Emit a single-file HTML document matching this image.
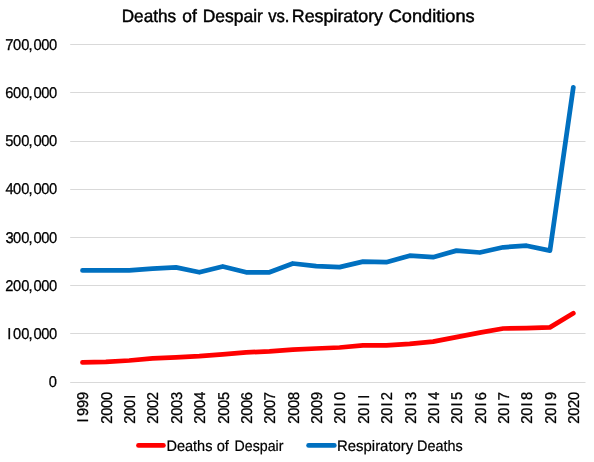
<!DOCTYPE html>
<html><head><meta charset="utf-8"><style>
html,body{margin:0;padding:0;background:#fff;}
body{width:594px;height:462px;overflow:hidden;}
svg{display:block;will-change:transform;text-rendering:geometricPrecision;font-family:"Liberation Sans", sans-serif;fill:#000;}
</style></head><body>
<svg width="594" height="462" viewBox="0 0 594 462">
<rect width="594" height="462" fill="#fff"/>
<line x1="70.2" y1="382.50" x2="585.5" y2="382.50" stroke="#d9d9d9" stroke-width="1"/>
<line x1="70.2" y1="333.50" x2="585.5" y2="333.50" stroke="#d9d9d9" stroke-width="1"/>
<line x1="70.2" y1="285.50" x2="585.5" y2="285.50" stroke="#d9d9d9" stroke-width="1"/>
<line x1="70.2" y1="237.50" x2="585.5" y2="237.50" stroke="#d9d9d9" stroke-width="1"/>
<line x1="70.2" y1="189.50" x2="585.5" y2="189.50" stroke="#d9d9d9" stroke-width="1"/>
<line x1="70.2" y1="141.50" x2="585.5" y2="141.50" stroke="#d9d9d9" stroke-width="1"/>
<line x1="70.2" y1="92.50" x2="585.5" y2="92.50" stroke="#d9d9d9" stroke-width="1"/>
<line x1="70.2" y1="44.50" x2="585.5" y2="44.50" stroke="#d9d9d9" stroke-width="1"/>
<text transform="translate(0,386.80) scale(0.94,1)" x="51.99" y="0" font-size="15.6" stroke="#000" stroke-width="0.3">0</text>
<text transform="translate(0,338.80) scale(0.94,1)" x="7.63 13.96 22.68 30.24 35.66 43.90 52.20" y="0" font-size="15.6" stroke="#000" stroke-width="0.3">I00,000</text>
<text transform="translate(0,290.90) scale(0.94,1)" x="5.54 13.96 22.68 30.24 35.66 43.90 52.20" y="0" font-size="15.6" stroke="#000" stroke-width="0.3">200,000</text>
<text transform="translate(0,242.90) scale(0.94,1)" x="5.73 13.96 22.68 30.24 35.66 43.90 52.20" y="0" font-size="15.6" stroke="#000" stroke-width="0.3">300,000</text>
<text transform="translate(0,193.90) scale(0.94,1)" x="5.96 13.96 22.68 30.24 35.66 43.90 52.20" y="0" font-size="15.6" stroke="#000" stroke-width="0.3">400,000</text>
<text transform="translate(0,145.90) scale(0.94,1)" x="5.70 13.96 22.68 30.24 35.66 43.90 52.20" y="0" font-size="15.6" stroke="#000" stroke-width="0.3">500,000</text>
<text transform="translate(0,97.90) scale(0.94,1)" x="5.52 13.96 22.68 30.24 35.66 43.90 52.20" y="0" font-size="15.6" stroke="#000" stroke-width="0.3">600,000</text>
<text transform="translate(0,49.80) scale(0.94,1)" x="5.52 13.96 22.68 30.24 35.66 43.90 52.20" y="0" font-size="15.6" stroke="#000" stroke-width="0.3">700,000</text>
<text transform="translate(88.29,423.25) rotate(-90) scale(0.94,1)" x="0.92 7.82 16.23 24.63" y="0" font-size="15.6" stroke="#000" stroke-width="0.3">I999</text>
<text transform="translate(111.66,423.25) rotate(-90) scale(0.94,1)" x="-0.63 7.95 16.35 24.75" y="0" font-size="15.6" stroke="#000" stroke-width="0.3">2000</text>
<text transform="translate(135.03,423.25) rotate(-90) scale(0.94,1)" x="-0.63 7.95 16.35 26.14" y="0" font-size="15.6" stroke="#000" stroke-width="0.3">200I</text>
<text transform="translate(158.40,423.25) rotate(-90) scale(0.94,1)" x="-0.63 7.95 16.35 24.58" y="0" font-size="15.6" stroke="#000" stroke-width="0.3">2002</text>
<text transform="translate(181.78,423.25) rotate(-90) scale(0.94,1)" x="-0.63 7.95 16.35 24.77" y="0" font-size="15.6" stroke="#000" stroke-width="0.3">2003</text>
<text transform="translate(205.15,423.25) rotate(-90) scale(0.94,1)" x="-0.63 7.95 16.35 25.00" y="0" font-size="15.6" stroke="#000" stroke-width="0.3">2004</text>
<text transform="translate(228.52,423.25) rotate(-90) scale(0.94,1)" x="-0.63 7.95 16.35 24.74" y="0" font-size="15.6" stroke="#000" stroke-width="0.3">2005</text>
<text transform="translate(251.90,423.25) rotate(-90) scale(0.94,1)" x="-0.63 7.95 16.35 24.57" y="0" font-size="15.6" stroke="#000" stroke-width="0.3">2006</text>
<text transform="translate(275.27,423.25) rotate(-90) scale(0.94,1)" x="-0.63 7.95 16.35 24.57" y="0" font-size="15.6" stroke="#000" stroke-width="0.3">2007</text>
<text transform="translate(298.64,423.25) rotate(-90) scale(0.94,1)" x="-0.63 7.95 16.35 24.69" y="0" font-size="15.6" stroke="#000" stroke-width="0.3">2008</text>
<text transform="translate(322.01,423.25) rotate(-90) scale(0.94,1)" x="-0.63 7.95 16.35 24.63" y="0" font-size="15.6" stroke="#000" stroke-width="0.3">2009</text>
<text transform="translate(345.39,423.25) rotate(-90) scale(0.94,1)" x="-0.63 7.95 17.73 24.75" y="0" font-size="15.6" stroke="#000" stroke-width="0.3">20I0</text>
<text transform="translate(368.76,423.25) rotate(-90) scale(0.94,1)" x="-0.63 7.95 17.73 26.14" y="0" font-size="15.6" stroke="#000" stroke-width="0.3">20II</text>
<text transform="translate(392.13,423.25) rotate(-90) scale(0.94,1)" x="-0.63 7.95 17.73 24.58" y="0" font-size="15.6" stroke="#000" stroke-width="0.3">20I2</text>
<text transform="translate(415.50,423.25) rotate(-90) scale(0.94,1)" x="-0.63 7.95 17.73 24.77" y="0" font-size="15.6" stroke="#000" stroke-width="0.3">20I3</text>
<text transform="translate(438.88,423.25) rotate(-90) scale(0.94,1)" x="-0.63 7.95 17.73 25.00" y="0" font-size="15.6" stroke="#000" stroke-width="0.3">20I4</text>
<text transform="translate(462.25,423.25) rotate(-90) scale(0.94,1)" x="-0.63 7.95 17.73 24.74" y="0" font-size="15.6" stroke="#000" stroke-width="0.3">20I5</text>
<text transform="translate(485.62,423.25) rotate(-90) scale(0.94,1)" x="-0.63 7.95 17.73 24.57" y="0" font-size="15.6" stroke="#000" stroke-width="0.3">20I6</text>
<text transform="translate(509.00,423.25) rotate(-90) scale(0.94,1)" x="-0.63 7.95 17.73 24.57" y="0" font-size="15.6" stroke="#000" stroke-width="0.3">20I7</text>
<text transform="translate(532.37,423.25) rotate(-90) scale(0.94,1)" x="-0.63 7.95 17.73 24.69" y="0" font-size="15.6" stroke="#000" stroke-width="0.3">20I8</text>
<text transform="translate(555.74,423.25) rotate(-90) scale(0.94,1)" x="-0.63 7.95 17.73 24.63" y="0" font-size="15.6" stroke="#000" stroke-width="0.3">20I9</text>
<text transform="translate(579.11,423.25) rotate(-90) scale(0.94,1)" x="-0.63 7.95 16.18 24.75" y="0" font-size="15.6" stroke="#000" stroke-width="0.3">2020</text>
<polyline points="82.49,362.40 105.86,361.80 129.23,360.50 152.60,358.30 175.98,357.30 199.35,356.20 222.72,354.40 246.10,352.40 269.47,351.30 292.84,349.60 316.21,348.50 339.59,347.50 362.96,345.40 386.33,345.40 409.70,343.90 433.08,341.60 456.45,337.05 479.82,332.70 503.20,328.50 526.57,328.20 549.94,327.40 573.31,313.30" fill="none" stroke="#ff0000" stroke-width="4.75" stroke-linecap="round" stroke-linejoin="round"/>
<polyline points="82.49,270.40 105.86,270.40 129.23,270.40 152.60,268.70 175.98,267.40 199.35,272.30 222.72,266.50 246.10,272.30 269.47,272.30 292.84,263.50 316.21,266.10 339.59,267.10 362.96,261.60 386.33,262.20 409.70,255.70 433.08,257.20 456.45,250.60 479.82,252.50 503.20,247.30 526.57,245.70 549.94,250.60 573.31,87.30" fill="none" stroke="#0070c0" stroke-width="4.75" stroke-linecap="round" stroke-linejoin="round"/>
<text x="121.73" y="21.5" font-size="17.9" stroke="#000" stroke-width="0.45" textLength="54.35" lengthAdjust="spacingAndGlyphs">Deaths</text>
<text x="182.25" y="21.5" font-size="17.9" stroke="#000" stroke-width="0.45" textLength="14.51" lengthAdjust="spacingAndGlyphs">of</text>
<text x="202.65" y="21.5" font-size="17.9" stroke="#000" stroke-width="0.45" textLength="60.24" lengthAdjust="spacingAndGlyphs">Despair</text>
<text x="268.20" y="21.5" font-size="17.9" stroke="#000" stroke-width="0.45" textLength="21.29" lengthAdjust="spacingAndGlyphs">vs.</text>
<text x="291.78" y="21.5" font-size="17.9" stroke="#000" stroke-width="0.45" textLength="91.24" lengthAdjust="spacingAndGlyphs">Respiratory</text>
<text x="388.69" y="21.5" font-size="17.9" stroke="#000" stroke-width="0.45" textLength="86.02" lengthAdjust="spacingAndGlyphs">Conditions</text>
<line x1="138.5" y1="445.4" x2="163.4" y2="445.4" stroke="#ff0000" stroke-width="4.75" stroke-linecap="round"/>
<line x1="308.6" y1="445.4" x2="334.3" y2="445.4" stroke="#0070c0" stroke-width="4.75" stroke-linecap="round"/>
<text x="166.40" y="450.5" font-size="15.2" stroke="#000" stroke-width="0.22" textLength="46.06" lengthAdjust="spacingAndGlyphs">Deaths</text>
<text x="216.66" y="450.5" font-size="15.2" stroke="#000" stroke-width="0.22" textLength="12.21" lengthAdjust="spacingAndGlyphs">of</text>
<text x="234.62" y="450.5" font-size="15.2" stroke="#000" stroke-width="0.22" textLength="48.88" lengthAdjust="spacingAndGlyphs">Despair</text>
<text x="337.02" y="450.5" font-size="15.2" stroke="#000" stroke-width="0.22" textLength="76.27" lengthAdjust="spacingAndGlyphs">Respiratory</text>
<text x="417.09" y="450.5" font-size="15.2" stroke="#000" stroke-width="0.22" textLength="45.68" lengthAdjust="spacingAndGlyphs">Deaths</text>
</svg>
</body></html>
